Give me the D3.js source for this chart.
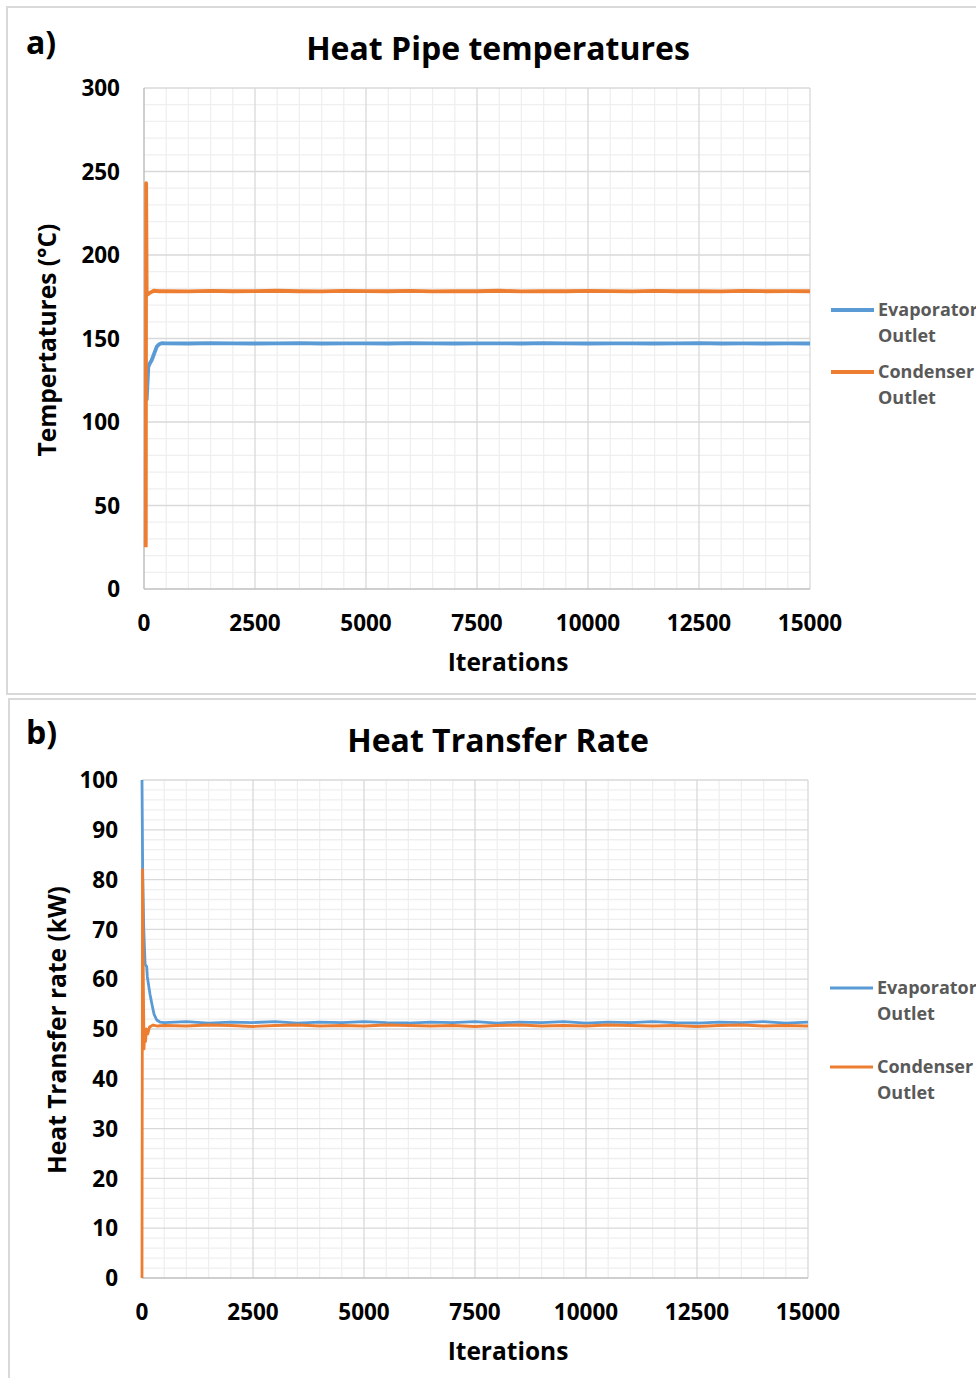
<!DOCTYPE html>
<html><head><meta charset="utf-8">
<script src="https://cdn.jsdelivr.net/npm/d3@7"></script>
<style>body{margin:0;background:#fff}svg{display:block}text{font-family:"Open Sans",sans-serif}</style>
</head><body>
<script>
// ---------- DATA ----------
const xTicks = [0, 2500, 5000, 7500, 10000, 12500, 15000];
const yTicksA = [0, 50, 100, 150, 200, 250, 300];
const yTicksB = [0, 10, 20, 30, 40, 50, 60, 70, 80, 90, 100];
const seriesNames = ["Evaporator Outlet", "Condenser Outlet"];
const colors = ["#5b9bd5", "#ed7d31"];

// steady-state iteration samples
const steadyIter = [500,1000,1500,2000,2500,3000,3500,4000,4500,5000,5500,6000,6500,7000,7500,8000,8500,9000,9500,10000,10500,11000,11500,12000,12500,13000,13500,14000,14500,15000];

// Panel a) Heat Pipe temperatures (°C)
const evapA_iter = [60, 97, 130, 173, 230, 286, 340, 398].concat(steadyIter);
const evapA_val  = [113, 133, 135, 137, 141, 145, 146.6, 147.2,
  147.1,147.0,147.2,147.1,147.0,147.1,147.2,147.0,147.1,147.1,147.0,147.2,147.1,147.0,147.1,147.1,147.0,147.2,147.1,147.0,147.1,147.1,147.0,147.1,147.2,147.0,147.1,147.0,147.1,147.0];
const condA_iter = [40, 48, 60, 90, 140, 220, 350].concat(steadyIter);
const condA_val  = [25, 243, 178, 176.5, 177.5, 178.6, 178.3,
  178.4,178.2,178.5,178.3,178.4,178.6,178.3,178.2,178.5,178.4,178.3,178.5,178.2,178.4,178.3,178.6,178.2,178.4,178.3,178.5,178.4,178.2,178.5,178.3,178.4,178.2,178.5,178.3,178.4,178.3];

// Panel b) Heat Transfer Rate (kW)
const evapB_iter = [0, 15, 40, 70, 106, 120, 142, 180, 218, 270, 331, 405].concat(steadyIter);
const evapB_val  = [100, 82, 70, 63, 62.5, 60.5, 59.2, 57, 55.2, 53, 51.8, 51.4,
  51.3,51.5,51.2,51.4,51.3,51.5,51.2,51.4,51.3,51.5,51.3,51.2,51.4,51.3,51.5,51.2,51.4,51.3,51.5,51.2,51.4,51.3,51.5,51.3,51.2,51.4,51.3,51.5,51.2,51.4];
const condB_iter = [0, 12, 30, 45, 60, 80, 100, 130, 170, 250, 350].concat(steadyIter);
const condB_val  = [0, 82, 60, 46, 49, 47.5, 50, 49, 50.4, 50.8, 50.6,
  50.7,50.6,50.8,50.7,50.5,50.7,50.8,50.6,50.7,50.6,50.8,50.7,50.6,50.7,50.5,50.7,50.8,50.6,50.7,50.6,50.8,50.7,50.6,50.7,50.5,50.7,50.8,50.6,50.7,50.6];

// ---------- DRAW ----------
const W = 976, H = 1378;
const svg = d3.select("body").append("svg").attr("width", W).attr("height", H);
svg.append("rect").attr("width", W).attr("height", H).attr("fill", "#fff");

function panel(cfg) {
  const g = svg.append("g");
  g.append("rect").attr("x", cfg.box[0]).attr("y", cfg.box[1]).attr("width", cfg.box[2]).attr("height", cfg.box[3])
    .attr("fill", "#fff").attr("stroke", "#d9d9d9").attr("stroke-width", 2);
  const x = d3.scaleLinear().domain([0, 15000]).range([cfg.left, cfg.right]);
  const y = d3.scaleLinear().domain([0, cfg.ymax]).range([cfg.bottom, cfg.top]);
  // minor grid
  const xMinor = d3.range(0, 15001, 500).filter(v => v % 2500 !== 0);
  const yMinor = d3.range(0, cfg.ymax + 1e-9, cfg.yMinorStep).filter(v => Math.abs(v / cfg.yMajorStep - Math.round(v / cfg.yMajorStep)) > 1e-6);
  g.append("g").selectAll("line").data(xMinor).join("line")
    .attr("x1", d => x(d)).attr("x2", d => x(d)).attr("y1", cfg.top).attr("y2", cfg.bottom)
    .attr("stroke", "#efefef").attr("stroke-width", 1.3);
  g.append("g").selectAll("line").data(yMinor).join("line")
    .attr("y1", d => y(d)).attr("y2", d => y(d)).attr("x1", cfg.left).attr("x2", cfg.right)
    .attr("stroke", "#efefef").attr("stroke-width", 1.3);
  // major grid
  g.append("g").selectAll("line").data(xTicks.slice(1)).join("line")
    .attr("x1", d => x(d)).attr("x2", d => x(d)).attr("y1", cfg.top).attr("y2", cfg.bottom)
    .attr("stroke", "#d9d9d9").attr("stroke-width", 1.3);
  g.append("g").selectAll("line").data(cfg.yTicks.slice(1)).join("line")
    .attr("y1", d => y(d)).attr("y2", d => y(d)).attr("x1", cfg.left).attr("x2", cfg.right)
    .attr("stroke", "#d9d9d9").attr("stroke-width", 1.3);
  // axes lines
  g.append("line").attr("x1", cfg.left).attr("x2", cfg.left).attr("y1", cfg.top).attr("y2", cfg.bottom).attr("stroke", "#bfbfbf").attr("stroke-width", 1.5);
  g.append("line").attr("x1", cfg.left).attr("x2", cfg.right).attr("y1", cfg.bottom).attr("y2", cfg.bottom).attr("stroke", "#bfbfbf").attr("stroke-width", 1.5);
  // tick labels
  g.append("g").selectAll("text").data(cfg.yTicks).join("text")
    .attr("x", cfg.left - 24).attr("y", d => y(d)).attr("dy", "0.36em").attr("text-anchor", "end")
    .attr("font-size", 22.5).attr("font-weight", 700).attr("fill", "#000").text(d => d);
  g.append("g").selectAll("text").data(xTicks).join("text")
    .attr("x", d => x(d)).attr("y", cfg.bottom + 34).attr("dy", "0.36em").attr("text-anchor", "middle")
    .attr("font-size", 22.5).attr("font-weight", 700).attr("fill", "#000").text(d => d);
  // titles
  g.append("text").attr("x", 498).attr("y", cfg.titleY).attr("dy", "0.36em").attr("text-anchor", "middle")
    .attr("font-size", 32).attr("font-weight", 700).attr("fill", "#000").text(cfg.title);
  g.append("text").attr("x", 508).attr("y", cfg.bottom + 73).attr("dy", "0.36em").attr("text-anchor", "middle")
    .attr("font-size", 24.5).attr("font-weight", 700).attr("fill", "#000").text("Iterations");
  g.append("text").attr("transform", `translate(${cfg.yTitleX},${cfg.yTitleY}) rotate(-90)`).attr("dy", "0.36em")
    .attr("text-anchor", "middle").attr("font-size", 24.5).attr("font-weight", 700).attr("fill", "#000").text(cfg.yTitle);
  g.append("text").attr("x", cfg.labelX).attr("y", cfg.labelY).attr("dy", "0.36em")
    .attr("font-size", 32).attr("font-weight", 700).attr("fill", "#000").text(cfg.label);
  // lines
  const line = d3.line().x(d => x(d[0])).y(d => y(d[1]));
  cfg.series.forEach((s, i) => {
    const pts = s.iter.map((it, k) => [it, s.val[k]]);
    g.append("path").datum(pts).attr("d", line).attr("fill", "none")
      .attr("stroke", colors[i]).attr("stroke-width", cfg.lw).attr("stroke-linejoin", "round");
  });
  // legend
  seriesNames.forEach((name, i) => {
    const ly = cfg.legendY[i];
    g.append("line").attr("x1", cfg.legendX).attr("x2", cfg.legendX + 43).attr("y1", ly).attr("y2", ly)
      .attr("stroke", colors[i]).attr("stroke-width", cfg.lw);
    const words = name.split(" ");
    words.forEach((w, k) => {
      g.append("text").attr("x", cfg.legendX + 47).attr("y", ly + k * 26).attr("dy", "0.36em")
        .attr("font-size", 18).attr("font-weight", 700).attr("fill", "#595959").text(w);
    });
  });
}

panel({
  box: [7, 7, 990, 687], left: 144, right: 810, top: 88, bottom: 589, ymax: 300,
  yTicks: yTicksA, yMajorStep: 50, yMinorStep: 10,
  title: "Heat Pipe temperatures", titleY: 48, yTitle: "Tempertatures (°C)", yTitleX: 47, yTitleY: 340,
  label: "a)", labelX: 26, labelY: 42, lw: 3.8,
  legendX: 831, legendY: [310, 372],
  series: [{iter: evapA_iter, val: evapA_val}, {iter: condA_iter, val: condA_val}]
});
panel({
  box: [9, 699, 990, 700], left: 142, right: 808, top: 780, bottom: 1278, ymax: 100,
  yTicks: yTicksB, yMajorStep: 10, yMinorStep: 2,
  title: "Heat Transfer Rate", titleY: 740, yTitle: "Heat Transfer rate (kW)", yTitleX: 57, yTitleY: 1030,
  label: "b)", labelX: 26, labelY: 732, lw: 2.8,
  legendX: 830, legendY: [988, 1067],
  series: [{iter: evapB_iter, val: evapB_val}, {iter: condB_iter, val: condB_val}]
});
</script>
</body></html>
